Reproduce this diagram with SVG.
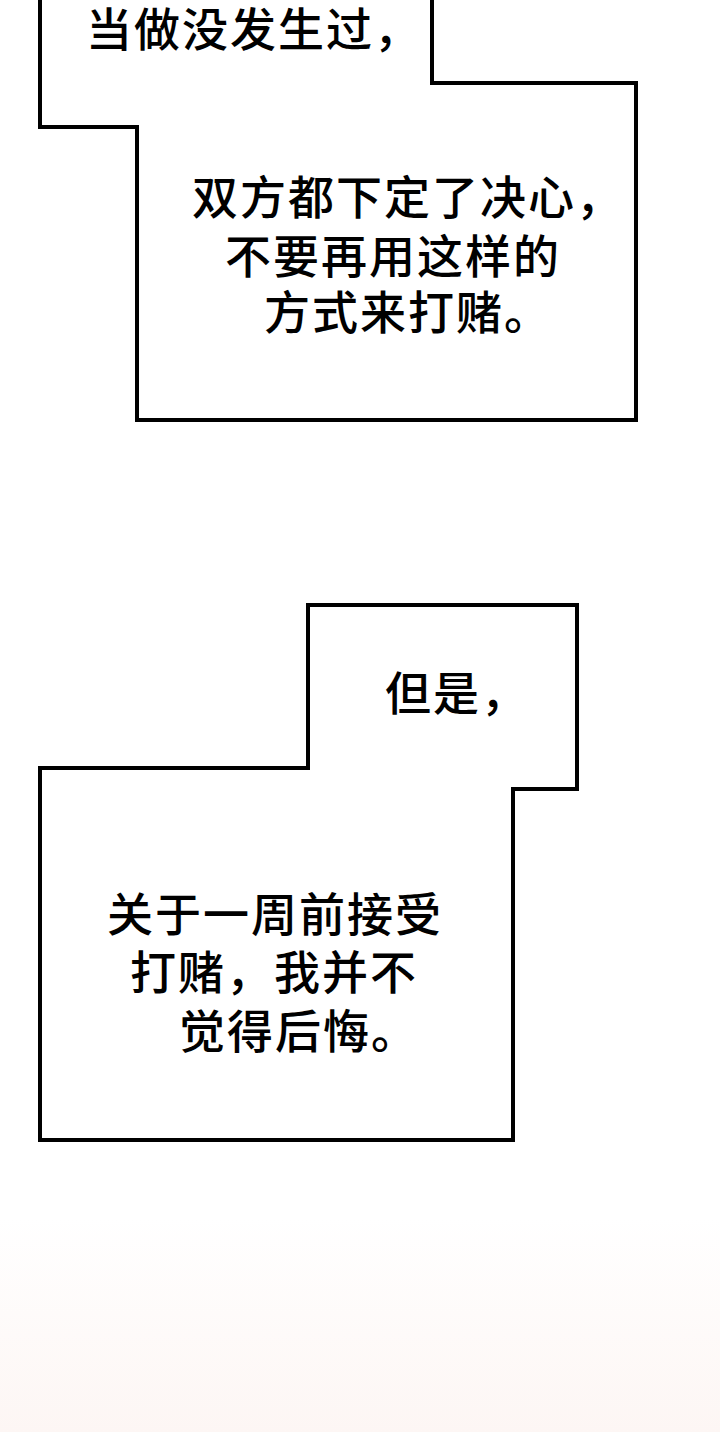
<svg xmlns="http://www.w3.org/2000/svg" width="720" height="1432" viewBox="0 0 720 1432">
<defs>
<style>
.box{fill:#ffffff;stroke:#000000;stroke-width:4;stroke-linejoin:miter}
.t{font-family:"Noto Sans CJK SC","Noto Sans",sans-serif;font-size:46px;font-weight:500;fill:#000000;letter-spacing:2px}
</style>
<linearGradient id="bg" x1="0" y1="0" x2="0" y2="1">
<stop offset="0" stop-color="#ffffff"/>
<stop offset="0.85" stop-color="#ffffff"/>
<stop offset="1" stop-color="#fdf6f4"/>
</linearGradient>
</defs>
<rect x="0" y="0" width="720" height="1432" fill="url(#bg)"/>
<g id="bubble1">
<polygon class="box" points="40,-5 40,127 137,127 137,420 636,420 636,83 432,83 432,-5"/>
<text class="t" x="86" y="46">当做没发生过，</text>
<text class="t" x="192" y="214">双方都下定了决心，</text>
<text class="t" x="225" y="273">不要再用这样的</text>
<text class="t" x="264" y="329">方式来打赌。</text>
</g>
<g id="bubble2">
<polygon class="box" points="308,605 577,605 577,789 513,789 513,1140 40,1140 40,768 308,768"/>
<text class="t" x="385" y="710">但是，</text>
<text class="t" x="107" y="931">关于一周前接受</text>
<text class="t" x="130" y="989">打赌，我并不</text>
<text class="t" x="179" y="1048">觉得后悔。</text>
</g>
<g id="connectors"/>
</svg>
